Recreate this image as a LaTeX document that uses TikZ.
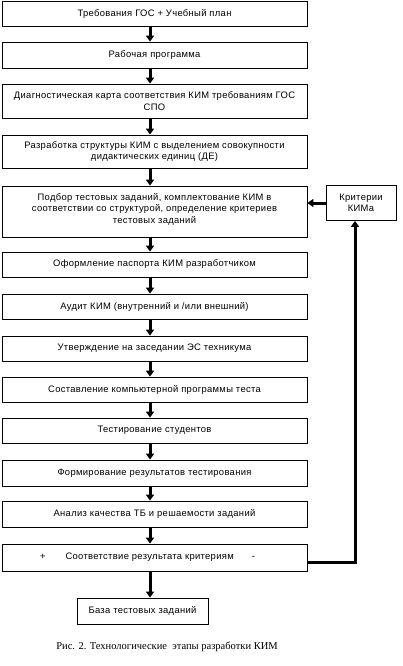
\documentclass[tikz,border=0pt]{standalone}
\usepackage{fontspec}
\setmainfont[LetterSpace=3.5]{Liberation Sans}
\newfontfamily\capfont{Liberation Serif}
\usetikzlibrary{arrows.meta}
\begin{document}
\begin{tikzpicture}[x=1pt,y=-1pt,
  mainbox/.style={draw,line width=0.8pt,minimum width=305pt,align=center,font=\fontsize{9.4}{11.5}\selectfont,inner sep=0pt},
  sidebox/.style={draw,line width=0.8pt,align=center,font=\fontsize{9.4}{11.5}\selectfont,inner sep=0pt},
  flow/.style={line width=3pt,-{Triangle[length=6pt,width=8pt]}},
  back/.style={line width=3pt}]
\useasboundingbox (0,0) rectangle (403,666);
\node[mainbox,minimum height=25pt] (b1) at (154.5,13.5) {Требования ГОС + Учебный план};
\node[mainbox,minimum height=26pt] (b2) at (154.5,55) {Рабочая программа};
\node[mainbox,minimum height=34pt] (b3) at (154.5,101) {Диагностическая карта соответствия КИМ требованиям ГОС\\СПО};
\node[mainbox,minimum height=33pt] (b4) at (154.5,151.5) {Разработка структуры КИМ с выделением совокупности\\дидактических единиц (ДЕ)};
\node[mainbox,minimum height=51pt] (b5) at (154.5,211.5) {Подбор тестовых заданий, комплектование КИМ в\\соответствии со структурой, определение критериев\\тестовых заданий\\[-5pt]\mbox{}};
\node[mainbox,minimum height=25pt] (b6) at (154.5,264.5) {Оформление паспорта КИМ разработчиком};
\node[mainbox,minimum height=25pt] (b7) at (154.5,306.5) {Аудит КИМ (внутренний и /или внешний)};
\node[mainbox,minimum height=25pt] (b8) at (154.5,348.5) {Утверждение на заседании ЭС техникума};
\node[mainbox,minimum height=25pt] (b9) at (154.5,389.5) {Составление компьютерной программы теста};
\node[mainbox,minimum height=25pt] (b10) at (154.5,430.5) {Тестирование студентов};
\node[mainbox,minimum height=26pt] (b11) at (154.5,473) {Формирование результатов тестирования};
\node[mainbox,minimum height=26pt] (b12) at (154.5,514) {Анализ качества ТБ и решаемости заданий};
\node[mainbox,minimum height=27pt] (b13) at (154.5,557.5) {\hspace{-14pt}+\hspace{20pt}Соответствие результата критериям\hspace{18pt}-};
\node[sidebox,minimum width=131pt,minimum height=26pt] (b14) at (142.5,611) {База тестовых заданий};
\node[sidebox,minimum width=70pt,minimum height=35pt] (crit) at (361,203) {Критерии\\КИМа};
\coordinate (ax) at (150,0);
\coordinate (vx) at (355,0);
\foreach \a/\b in {b1/b2,b2/b3,b3/b4,b4/b5,b5/b6,b6/b7,b7/b8,b8/b9,b9/b10,b10/b11,b11/b12,b12/b13,b13/b14}
  \draw[flow] (\a.south -| ax) -- (\b.north -| ax);
\draw[flow] (crit.west) -- (crit.west -| b5.east);
\draw[back] ([yshift=-5pt]b13.east) -| (vx |- b5.south);
\draw[flow] (vx |- b5.south) -- (crit.south -| vx);
\node[font=\capfont\fontsize{10.5}{12}\selectfont] (cap) at (167,647) {Рис. 2. Технологические\ \ этапы разработки КИМ};
\end{tikzpicture}
\end{document}
